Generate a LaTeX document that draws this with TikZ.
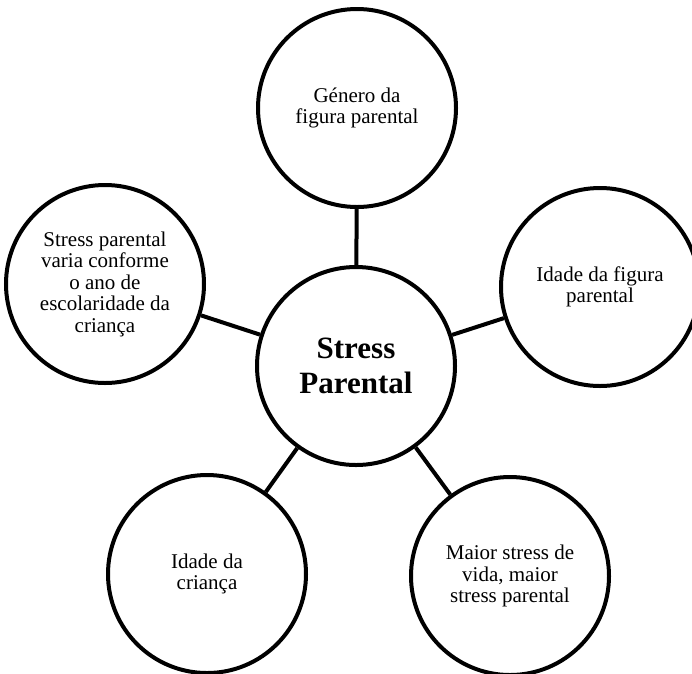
\documentclass[tikz,border=0pt]{standalone}
\usepackage{fontspec}
\setmainfont{Liberation Serif}
\usepackage{tikz}
\usetikzlibrary{positioning}

\begin{document}
\begin{tikzpicture}[
  x=1pt, y=-1pt,
  factor/.style={circle, draw=black, line width=4pt, fill=white, align=center, minimum size=198pt, inner sep=0pt, font=\fontsize{21}{21.5}\selectfont},
  core/.style={factor, font=\fontsize{31}{35}\selectfont\bfseries},
  link/.style={line width=4pt, draw=black}
]
\useasboundingbox (0,0) rectangle (692,673);
\node[core] (stress) at (356,366) {Stress\\Parental};
\node[factor] (genero) at (357,108) {Género da\\figura parental};
\node[factor] (idadefig) at (600,287) {Idade da figura\\parental};
\node[factor] (escola) at (105,284) {Stress parental\\varia conforme\\o ano de\\escolaridade da\\criança};
\node[factor] (idadecri) at (207,574) {Idade da\\criança};
\node[factor] (vida) at (510,576) {Maior stress de\\vida, maior\\stress parental};

\draw[link] (stress) -- (genero);
\draw[link] (stress) -- (idadefig);
\draw[link] (stress) -- (escola);
\draw[link] (stress) -- (idadecri);
\draw[link] (stress) -- (vida);
\end{tikzpicture}
\end{document}
